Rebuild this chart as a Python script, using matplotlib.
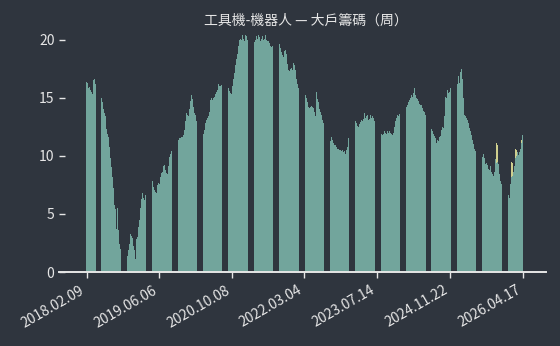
import numpy as np
import matplotlib
matplotlib.use("Agg")
import matplotlib.pyplot as plt

plt.rcParams['font.family'] = ['Noto Sans CJK TC', 'DejaVu Sans']

# weekly big-holder share (%), oldest first
pct = [
    16.4, 16.3, 15.8, 15.9, 15.7, 15.5, 15.3, 16.5, 16.6,
    16.2, 15.8, 15.5, 15.3,
    15.4, 15.0, 14.6, 14.0, 13.7, 13.4, 12.3, 11.9, 11.6, 10.8, 9.8, 9.0, 8.2, 7.2, 5.8, 5.4, 3.7, 5.5, 3.6, 2.4,
    2.0, 1.5, 1.2, 0.9,
    0.8, 1.0, 1.4, 1.9, 2.4, 3.3, 3.1, 2.9, 2.2, 1.9, 1.1, 2.8, 3.0, 3.9, 4.5, 5.5, 6.3, 6.8, 6.4, 6.2,
    6.6, 6.9, 7.3, 7.5,
    7.2, 7.6, 7.8, 7.3, 7.1, 6.9, 6.8, 7.5, 7.7, 7.6, 8.2, 8.5, 8.6, 9.1, 9.2, 8.8, 8.5, 8.4, 9.1, 9.9,
    10.2, 10.4, 10.6, 10.8, 10.9,
    10.9, 11.2, 11.4, 11.5, 11.5, 11.6, 11.6, 11.8, 12.2, 13.0, 13.7, 13.5, 13.4, 14.0, 14.7, 15.2, 14.9, 14.2, 13.7, 13.5,
    13.0, 12.5, 12.0, 11.6,
    11.5, 11.6, 11.9, 12.2, 12.8, 13.1, 13.3, 13.4, 13.8, 14.8, 15.0, 14.8, 15.0, 15.1, 15.3, 15.5, 15.7, 16.2, 16.0, 16.0,
    16.1, 16.2, 16.4, 16.3, 16.5,
    17.4, 15.8, 15.6, 15.4, 15.3, 16.0, 16.6, 17.1, 17.8, 18.3, 18.8, 19.5, 20.0, 20.1, 20.0, 20.4, 20.1, 19.9, 20.4, 20.3,
    20.0, 19.6, 19.3, 19.2,
    19.1, 19.5, 19.8, 20.0, 20.3, 20.1, 20.4, 20.2, 19.9, 20.1, 20.3, 20.0, 20.1, 20.4, 20.0, 19.9, 19.9, 19.7, 19.5, 19.4,
    19.5, 19.7, 19.8, 19.9,
    20.0, 19.8, 19.6, 19.3, 18.9, 18.7, 18.5, 19.0, 19.1, 18.8, 17.9, 17.4, 17.3, 17.5, 17.6, 17.4, 18.0, 17.8, 17.4, 16.6, 16.2,
    15.8, 15.5, 15.3, 15.1,
    15.2, 15.1, 15.2, 15.0, 14.6, 14.2, 14.1, 14.2, 14.3, 14.2, 14.1, 13.8, 13.4, 15.5, 14.9, 14.6, 14.0, 13.8, 13.5, 13.1,
    12.8, 12.5, 12.3, 12.1,
    11.9, 11.5, 11.3, 11.6, 11.4, 11.1, 10.9, 10.9, 10.8, 10.6, 10.6, 10.5, 10.5, 10.4, 10.5, 10.3, 10.4, 10.2, 10.5, 10.8,
    11.5, 12.3, 12.9, 13.3,
    13.5, 13.2, 13.0, 12.8, 12.6, 12.5, 12.7, 12.9, 13.1, 13.0, 13.2, 13.7, 13.3, 13.4, 13.5, 13.1, 13.2, 13.5, 13.3, 13.4, 13.3,
    13.0, 12.7, 12.4, 12.3,
    12.2, 12.0, 11.9, 11.8, 11.9, 12.1, 12.0, 11.9, 12.1, 12.0, 12.1, 12.0, 11.9, 11.8, 12.0, 12.5, 13.0, 13.3, 13.5, 13.4, 13.6,
    13.9, 14.2, 14.4, 14.6,
    14.7, 14.2, 14.4, 14.6, 14.8, 15.0, 15.2, 15.1, 15.4, 15.8, 15.2, 15.0, 14.9, 14.7, 14.5, 14.4, 14.4, 14.1, 13.9, 13.8,
    13.5, 13.2, 12.9, 12.6,
    12.4, 12.3, 12.1, 11.9, 11.7, 11.5, 11.1, 11.4, 11.3, 11.6, 11.7, 12.2, 12.5, 12.4, 13.4, 15.1, 15.0, 15.7, 15.4, 15.5,
    15.8, 16.3, 16.8, 17.1, 17.3,
    17.4, 16.2, 16.9, 16.3, 17.2, 17.5, 16.6, 15.0, 13.5, 13.4, 13.3, 13.1, 12.8, 12.4, 12.1, 11.8, 11.4, 11.0, 10.6, 10.4,
    10.0, 9.7, 9.5, 9.4,
    9.5, 9.9, 10.2, 9.8, 9.3, 9.4, 9.2, 8.9, 8.8, 9.1, 8.6, 8.4, 8.3, 8.6, 9.7, 9.4, 9.5, 9.3, 8.4, 7.8, 7.6,
    7.4, 7.3, 7.2, 7.1,
    7.1, 6.6, 6.4, 7.6, 8.2, 8.3, 8.6, 9.1, 9.8, 10.0, 10.3, 10.1, 10.3, 10.6, 11.1, 11.8,
]

# weeks where the yellow series peeks above
hl_idx = [394, 395, 408, 409, 412, 413, 418]
hl_val = [11.1, 10.9, 9.5, 9.4, 10.6, 10.5, 11.4]

tick_pos = [0, 70, 140, 209, 279, 349, 419]
tick_lab = ['2018.02.09', '2019.06.06', '2020.10.08', '2022.03.04',
            '2023.07.14', '2024.11.22', '2026.04.17']

bg = '#2f353e'
fg = '#e6e6e6'

# axes spans 59.3..546 px, one week = 1.041 px, first bar at 86.53 px
ax_l, ax_r = 59.3, 546.0
step = 1.041
x0_px = 86.53
xmin = -(x0_px - ax_l) / step
xmax = xmin + (ax_r - ax_l) / step

fig = plt.figure(figsize=(5.6, 3.46), dpi=100, facecolor=bg)
ax = fig.add_axes([ax_l / 560, 74 / 346, (ax_r - ax_l) / 560, 21 * 11.615 / 346])
ax.set_facecolor(bg)

x = np.arange(len(pct))
bw = 0.8 / step
ax.bar(hl_idx, hl_val, width=bw, color='#cfcf8e', linewidth=0)
ax.bar(x, pct, width=bw, color='#72a59c', linewidth=0)

ax.set_xlim(xmin, xmax)
ax.set_ylim(0, 21)
ax.set_yticks([0, 5, 10, 15, 20])

ax.set_xticks(tick_pos)
ax.set_xticklabels(tick_lab, rotation=30, ha='right')

for s in ['top', 'right', 'left']:
    ax.spines[s].set_visible(False)
ax.spines['bottom'].set_color(fg)
ax.spines['bottom'].set_linewidth(1.4)

ax.tick_params(axis='x', colors=fg, labelsize=10, direction='out', length=4.5, width=1)
ax.tick_params(axis='y', colors=fg, labelsize=10, direction='in', length=4.5, width=1)

fig.text(306 / 560, 1 - 21 / 346, '工具機-機器人 — 大戶籌碼（周）', color=fg,
         fontsize=10, ha='center', va='center')

fig.savefig('out.png', dpi=100, facecolor=bg)
